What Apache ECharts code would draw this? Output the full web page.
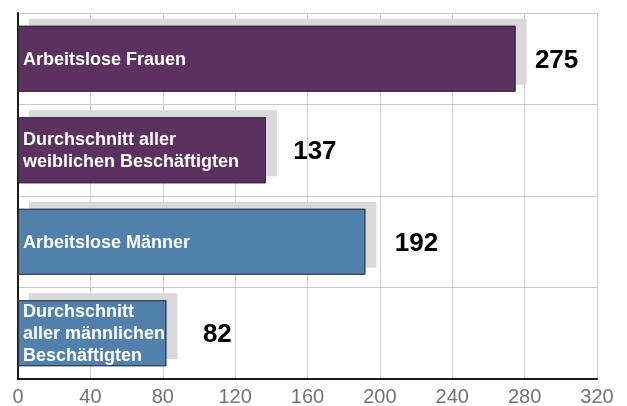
<!DOCTYPE html>
<html>
<head>
<meta charset="utf-8">
<script src="https://cdn.jsdelivr.net/npm/echarts@6/dist/echarts.min.js"></script>
<style>
html,body{margin:0;padding:0;background:#ffffff;}
#chart{width:627px;height:406px;}
</style>
</head>
<body>
<div id="chart"></div>
<script>
var categories = [
  "Arbeitslose Frauen",
  "Durchschnitt aller\nweiblichen Beschäftigten",
  "Arbeitslose Männer",
  "Durchschnitt\naller männlichen\nBeschäftigten"
];
var values = [275, 137, 192, 82];
var xTicks = [0, 40, 80, 120, 160, 200, 240, 280, 320];

// styling (not data)
var barColors = ["#5b3160", "#5b3160", "#5080ab", "#5080ab"];
var valueLabelGap = [41, 49, 51, 51];

var chart = echarts.init(document.getElementById('chart'), null, {renderer: 'canvas'});
var font = "'Liberation Sans', Arial, sans-serif";

var shadowData = values.map(function (v, i) {
  return { value: v, itemStyle: { color: barColors[i] } };
});
var mainData = values.map(function (v, i) {
  return { value: v, itemStyle: { color: barColors[i] } };
});
var labelData = values.map(function (v, i) {
  return { value: v, label: { distance: valueLabelGap[i] } };
});

chart.setOption({
  animation: false,
  backgroundColor: '#ffffff',
  grid: { left: 18, right: 30, top: 13, bottom: 27, containLabel: false, outerBoundsMode: 'none' },
  xAxis: {
    type: 'value',
    min: xTicks[0],
    max: xTicks[xTicks.length - 1],
    interval: xTicks[1] - xTicks[0],
    axisLine: { show: true, lineStyle: { color: '#1a1a1a', width: 2 } },
    axisTick: { show: false },
    axisLabel: { color: '#737373', fontSize: 20, fontFamily: font, margin: 8 },
    splitLine: { show: true, lineStyle: { color: '#d0d0d0', width: 1 } }
  },
  yAxis: {
    type: 'category',
    inverse: true,
    data: categories,
    axisLine: { show: true, onZero: false, lineStyle: { color: '#1a1a1a', width: 2 } },
    axisTick: { show: false },
    axisLabel: { show: false },
    splitLine: { show: true, lineStyle: { color: '#c8c8c8', width: 1 } }
  },
  series: [
    {
      type: 'bar',
      data: shadowData,
      barWidth: 66,
      itemStyle: {
        borderWidth: 0,
        shadowColor: '#d9d9d9',
        shadowBlur: 0,
        shadowOffsetX: 11,
        shadowOffsetY: -7
      },
      silent: true,
      z: 2
    },
    {
      type: 'bar',
      data: mainData,
      barWidth: 66,
      barGap: '-100%',
      itemStyle: {
        borderColor: '#2e2e38',
        borderWidth: 1
      },
      label: {
        show: true,
        position: 'insideLeft',
        distance: 5,
        offset: [0, 1],
        formatter: function (p) { return p.name; },
        color: '#ffffff',
        fontWeight: 'bold',
        fontSize: 18,
        lineHeight: 22,
        fontFamily: font
      },
      z: 3
    },
    {
      type: 'bar',
      data: labelData,
      barWidth: 66,
      barGap: '-100%',
      itemStyle: { color: 'rgba(0,0,0,0)', borderWidth: 0 },
      label: {
        show: true,
        position: 'right',
        align: 'center',
        offset: [0, 2],
        color: '#000000',
        fontWeight: 'bold',
        fontSize: 26,
        fontFamily: font
      },
      silent: true,
      z: 4
    }
  ]
});
</script>
</body>
</html>
